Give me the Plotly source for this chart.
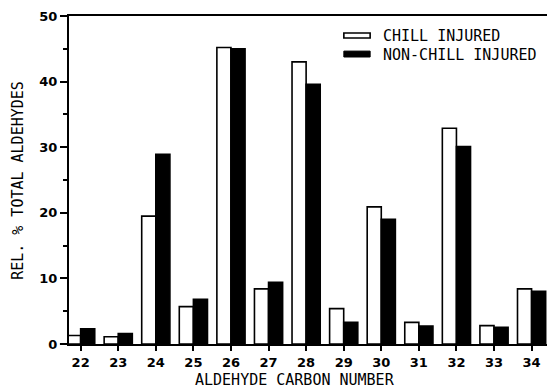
import plotly.graph_objects as go

carbon = [22, 23, 24, 25, 26, 27, 28, 29, 30, 31, 32, 33, 34]
chill = [1.3, 1.1, 19.5, 5.7, 45.2, 8.4, 43.0, 5.4, 20.9, 3.3, 32.9, 2.8, 8.4]
nonchill = [2.3, 1.6, 28.9, 6.8, 45.0, 9.4, 39.6, 3.3, 19.0, 2.75, 30.1, 2.55, 8.05]
series_names = ["CHILL INJURED", "NON-CHILL INJURED"]
x_title = "ALDEHYDE CARBON NUMBER"
y_title = "REL. % TOTAL ALDEHYDES"

mono = "DejaVu Sans Mono"
fig = go.Figure()
fig.add_trace(go.Bar(x=carbon, y=chill, name=series_names[0],
                     marker=dict(color="white", line=dict(color="black", width=1.6))))
fig.add_trace(go.Bar(x=carbon, y=nonchill, name=series_names[1],
                     marker=dict(color="black", line=dict(color="black", width=1.6))))

fig.update_layout(
    width=547, height=390,
    margin=dict(l=69, r=0, t=16, b=46),
    paper_bgcolor="white", plot_bgcolor="white",
    barmode="group", bargap=0.25, bargroupgap=0,
    showlegend=False,
    font=dict(family="DejaVu Sans", color="black"),
)
fig.update_xaxes(
    range=[21.69, 34.41], tickmode="array", tickvals=carbon,
    ticktext=[str(c) for c in carbon],
    showline=True, linecolor="black", linewidth=2, mirror=True,
    ticks="outside", ticklen=5, tickwidth=1.5, tickcolor="black",
    showgrid=False, zeroline=False,
    tickfont=dict(family="DejaVu Sans", size=13, weight="bold", color="black"),
)
fig.update_yaxes(
    range=[0, 50], tickmode="array", tickvals=[0, 10, 20, 30, 40, 50],
    showline=True, linecolor="black", linewidth=2,
    ticks="outside", ticklen=7, tickwidth=1.5, tickcolor="black",
    minor=dict(tickvals=[5, 15, 25, 35, 45], ticks="outside", ticklen=4, tickwidth=1.5, tickcolor="black"),
    showgrid=False, zeroline=False,
    tickfont=dict(family="DejaVu Sans", size=13, weight="bold", color="black"),
)

# axis line extensions to the left like the original
fig.add_shape(type="line", xref="paper", yref="paper", x0=-0.019, x1=0, y0=0, y1=0,
              line=dict(color="black", width=2))
fig.add_shape(type="line", xref="paper", yref="paper", x0=-0.015, x1=0, y0=1, y1=1,
              line=dict(color="black", width=2))

# custom legend
fig.add_shape(type="rect", xref="paper", yref="paper", x0=0.575, x1=0.630, y0=0.933, y1=0.948,
              fillcolor="white", line=dict(color="black", width=1.6))
fig.add_shape(type="rect", xref="paper", yref="paper", x0=0.575, x1=0.630, y0=0.875, y1=0.893,
              fillcolor="black", line=dict(color="black", width=1))
fig.add_annotation(xref="paper", yref="paper", x=0.652, y=0.938, text=series_names[0],
                   showarrow=False, xanchor="left", yanchor="middle",
                   font=dict(family=mono, size=15, color="black"))
fig.add_annotation(xref="paper", yref="paper", x=0.652, y=0.881, text=series_names[1],
                   showarrow=False, xanchor="left", yanchor="middle",
                   font=dict(family=mono, size=15, color="black"))

# axis titles
fig.add_annotation(xref="paper", yref="paper", x=0.473, y=-0.11, text=x_title,
                   showarrow=False, xanchor="center", yanchor="middle",
                   font=dict(family=mono, size=15, color="black"))
fig.add_annotation(xref="paper", yref="paper", x=-0.107, y=0.5, text=y_title,
                   showarrow=False, xanchor="center", yanchor="middle", textangle=-90,
                   font=dict(family=mono, size=15, color="black"))

fig.write_html("out.html")
